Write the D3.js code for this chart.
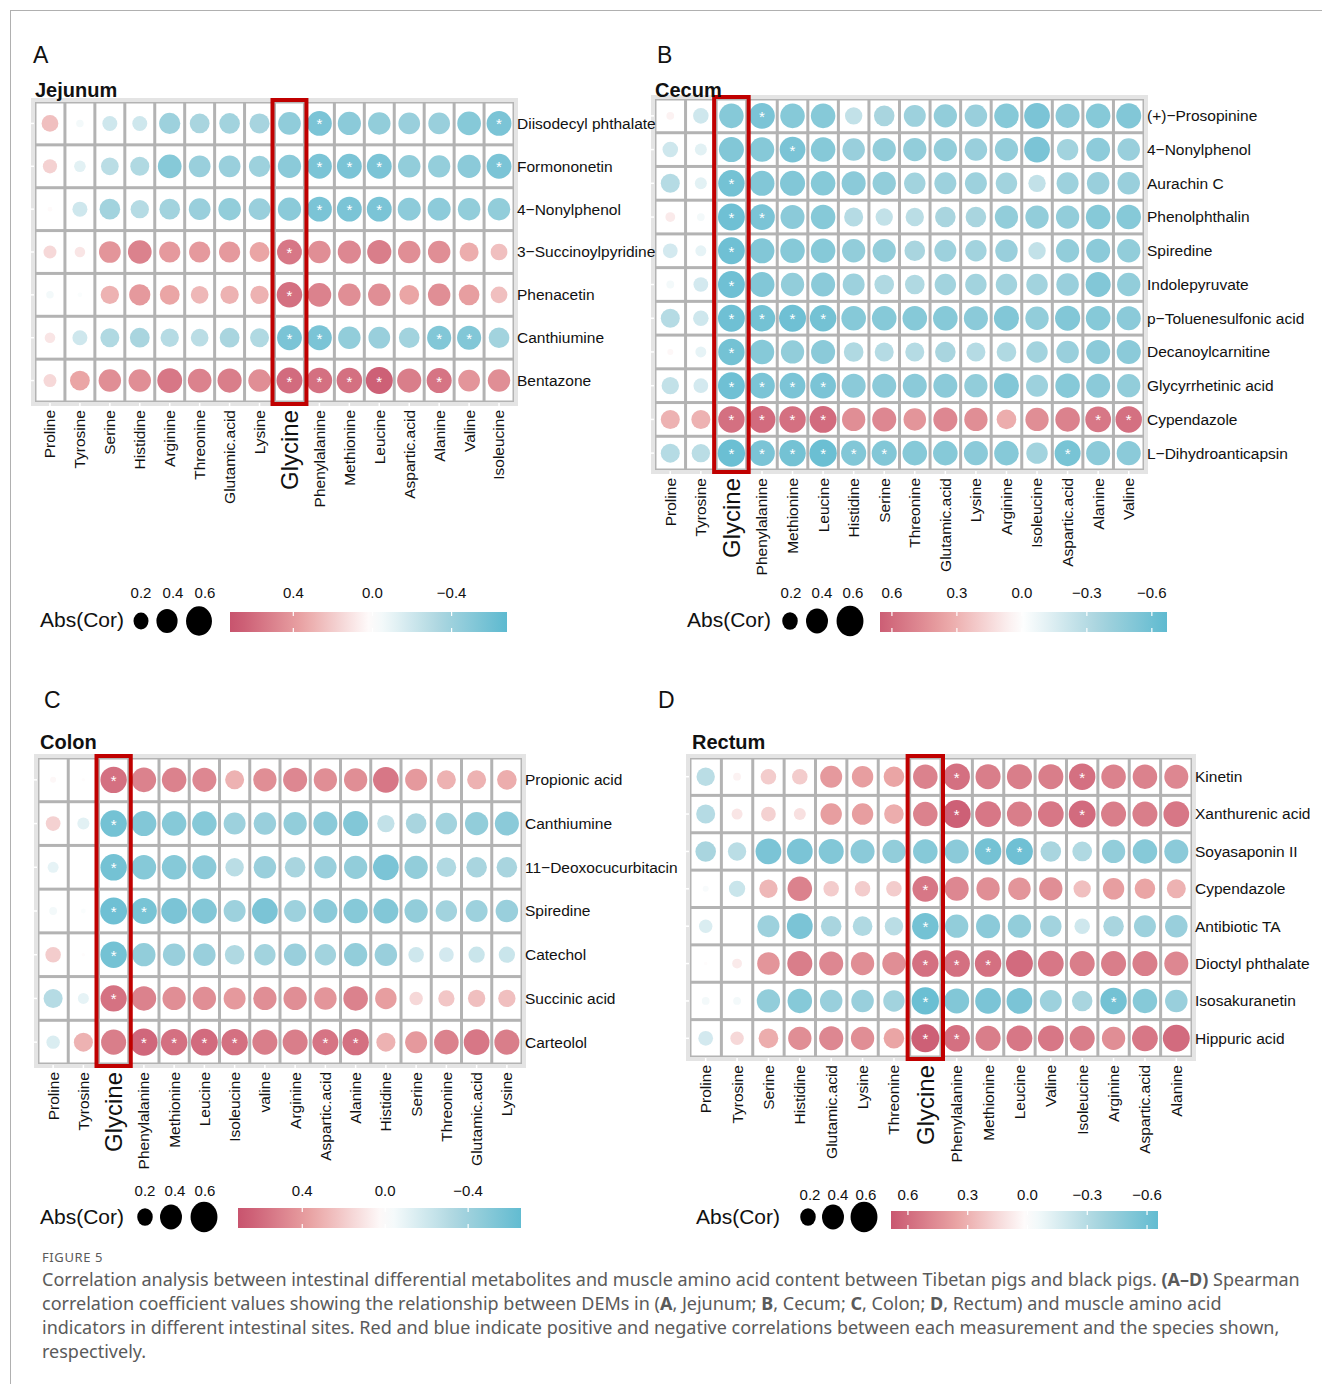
<!DOCTYPE html>
<html>
<head>
<meta charset="utf-8">
<title>Figure 5</title>
<script src="https://d3js.org/d3.v7.min.js"></script>
<style>
  body { margin: 0; background: #fff; }
  svg text { font-family: "Liberation Sans", Arial, sans-serif; fill: #111; }
  .caption text { font-family: "Noto Sans", sans-serif; fill: #5a5a5a; }
</style>
</head>
<body>
<svg id="fig" width="1322" height="1384"></svg>
<script>
// ---- data ----
var jejunumCols = ["Proline","Tyrosine","Serine","Histidine","Arginine","Threonine","Glutamic.acid","Lysine","Glycine","Phenylalanine","Methionine","Leucine","Aspartic.acid","Alanine","Valine","Isoleucine"];
var jejunumRows = ["Diisodecyl phthalate","Formononetin","4\u2212Nonylphenol","3\u2212Succinoylpyridine","Phenacetin","Canthiumine","Bentazone"];
var jejunumCor = [
  [0.25,-0.05,-0.2,-0.2,-0.4,-0.35,-0.38,-0.36,-0.46,-0.55,-0.48,-0.45,-0.42,-0.42,-0.5,-0.55],
  [0.18,-0.12,-0.28,-0.32,-0.5,-0.42,-0.42,-0.4,-0.48,-0.55,-0.55,-0.55,-0.45,-0.44,-0.48,-0.55],
  [0.02,-0.2,-0.38,-0.3,-0.38,-0.42,-0.45,-0.42,-0.48,-0.55,-0.55,-0.55,-0.47,-0.47,-0.45,-0.45],
  [0.15,0.1,0.42,0.5,0.4,0.4,0.4,0.35,0.55,0.45,0.48,0.52,0.45,0.45,0.32,0.25],
  [-0.05,-0.02,0.3,0.4,0.35,0.28,0.3,0.3,0.58,0.5,0.45,0.45,0.35,0.45,0.38,0.25],
  [0.1,-0.2,-0.32,-0.35,-0.3,-0.28,-0.35,-0.32,-0.55,-0.55,-0.45,-0.42,-0.38,-0.52,-0.52,-0.38],
  [0.15,0.35,0.45,0.45,0.55,0.5,0.52,0.45,0.6,0.58,0.58,0.65,0.52,0.56,0.42,0.45]
];
var jejunumSig = [[9,15],[9,10,11,15],[9,10,11],[8],[8],[8,9,13,14],[8,9,10,11,13]];

var cecumCols = ["Proline","Tyrosine","Glycine","Phenylalanine","Methionine","Leucine","Histidine","Serine","Threonine","Glutamic.acid","Lysine","Arginine","Isoleucine","Aspartic.acid","Alanine","Valine"];
var cecumRows = ["(+)\u2212Prosopinine","4\u2212Nonylphenol","Aurachin C","Phenolphthalin","Spiredine","Indolepyruvate","p\u2212Toluenesulfonic acid","Decanoylcarnitine","Glycyrrhetinic acid","Cypendazole","L\u2212Dihydroanticapsin"];
var cecumCor = [
  [0.05,-0.2,-0.5,-0.55,-0.5,-0.5,-0.25,-0.35,-0.4,-0.45,-0.42,-0.5,-0.55,-0.48,-0.5,-0.52],
  [-0.2,-0.12,-0.52,-0.5,-0.55,-0.5,-0.42,-0.45,-0.45,-0.45,-0.42,-0.45,-0.55,-0.38,-0.47,-0.42],
  [-0.3,-0.12,-0.58,-0.52,-0.52,-0.5,-0.48,-0.45,-0.38,-0.4,-0.4,-0.38,-0.25,-0.4,-0.42,-0.42],
  [0.08,-0.05,-0.6,-0.55,-0.48,-0.5,-0.3,-0.25,-0.28,-0.35,-0.35,-0.45,-0.45,-0.45,-0.5,-0.5],
  [-0.18,-0.1,-0.6,-0.52,-0.5,-0.5,-0.45,-0.45,-0.35,-0.4,-0.38,-0.42,-0.25,-0.45,-0.48,-0.45],
  [-0.05,-0.18,-0.6,-0.52,-0.45,-0.48,-0.4,-0.32,-0.32,-0.38,-0.38,-0.38,-0.38,-0.42,-0.52,-0.45],
  [-0.3,-0.2,-0.6,-0.58,-0.6,-0.58,-0.5,-0.5,-0.5,-0.5,-0.48,-0.52,-0.45,-0.52,-0.5,-0.48],
  [0.03,-0.1,-0.58,-0.5,-0.45,-0.48,-0.32,-0.3,-0.3,-0.35,-0.3,-0.32,-0.38,-0.42,-0.48,-0.48],
  [-0.25,-0.18,-0.6,-0.55,-0.55,-0.55,-0.48,-0.48,-0.48,-0.48,-0.45,-0.52,-0.4,-0.5,-0.48,-0.45],
  [0.3,0.3,0.58,0.6,0.58,0.6,0.45,0.48,0.42,0.48,0.45,0.32,0.45,0.5,0.55,0.58],
  [-0.3,-0.28,-0.62,-0.55,-0.58,-0.62,-0.52,-0.52,-0.5,-0.5,-0.48,-0.5,-0.38,-0.56,-0.48,-0.48]
];
var cecumSig = [[3],[4],[2],[2,3],[2],[2],[2,3,4,5],[2],[2,3,4,5],[2,3,4,5,14,15],[2,3,4,5,6,7,13]];

var colonCols = ["Proline","Tyrosine","Glycine","Phenylalanine","Methionine","Leucine","Isoleucine","valine","Arginine","Aspartic.acid","Alanine","Histidine","Serine","Threonine","Glutamic.acid","Lysine"];
var colonRows = ["Propionic acid","Canthiumine","11\u2212Deoxocucurbitacin","Spiredine","Catechol","Succinic acid","Carteolol"];
var colonCor = [
  [0.03,0.01,0.58,0.5,0.5,0.48,0.3,0.45,0.48,0.45,0.45,0.55,0.4,0.3,0.3,0.32],
  [0.18,-0.12,-0.58,-0.52,-0.5,-0.5,-0.4,-0.42,-0.45,-0.48,-0.52,-0.25,-0.35,-0.38,-0.45,-0.48],
  [-0.1,0,-0.58,-0.5,-0.5,-0.48,-0.28,-0.42,-0.35,-0.42,-0.45,-0.55,-0.45,-0.32,-0.35,-0.35],
  [-0.05,-0.02,-0.6,-0.56,-0.55,-0.52,-0.4,-0.55,-0.4,-0.48,-0.5,-0.52,-0.45,-0.38,-0.4,-0.42],
  [0.2,0.01,-0.58,-0.45,-0.42,-0.42,-0.32,-0.38,-0.42,-0.38,-0.45,-0.42,-0.2,-0.18,-0.22,-0.22],
  [-0.3,-0.1,0.57,0.5,0.45,0.45,0.4,0.45,0.45,0.42,0.5,0.38,0.15,0.22,0.25,0.25],
  [-0.15,0.3,0.52,0.62,0.58,0.6,0.58,0.52,0.52,0.56,0.58,0.3,0.4,0.5,0.55,0.52]
];
var colonSig = [[2],[2],[2],[2,3],[2],[2],[3,4,5,6,9,10]];

var rectumCols = ["Proline","Tyrosine","Serine","Histidine","Glutamic.acid","Lysine","Threonine","Glycine","Phenylalanine","Methionine","Leucine","Valine","Isoleucine","Arginine","Aspartic.acid","Alanine"];
var rectumRows = ["Kinetin","Xanthurenic acid","Soyasaponin II","Cypendazole","Antibiotic TA","Dioctyl phthalate","Isosakuranetin","Hippuric acid"];
var rectumCor = [
  [-0.28,0.05,0.2,0.2,0.4,0.38,0.35,0.5,0.58,0.52,0.52,0.52,0.58,0.5,0.5,0.48],
  [-0.3,0.1,0.18,0.12,0.38,0.38,0.32,0.5,0.65,0.55,0.52,0.55,0.6,0.52,0.52,0.55],
  [-0.35,-0.28,-0.55,-0.55,-0.52,-0.48,-0.45,-0.5,-0.48,-0.58,-0.6,-0.35,-0.32,-0.45,-0.5,-0.48],
  [-0.03,-0.22,0.28,0.5,0.2,0.2,0.2,0.55,0.48,0.45,0.42,0.45,0.25,0.38,0.35,0.3],
  [-0.15,0,-0.4,-0.55,-0.35,-0.32,-0.28,-0.58,-0.45,-0.48,-0.45,-0.38,-0.2,-0.35,-0.4,-0.42],
  [0.01,0.08,0.42,0.52,0.48,0.45,0.45,0.58,0.58,0.58,0.6,0.55,0.52,0.52,0.52,0.48],
  [-0.05,-0.05,-0.45,-0.5,-0.42,-0.42,-0.38,-0.62,-0.52,-0.55,-0.55,-0.4,-0.35,-0.58,-0.5,-0.42],
  [-0.18,0.15,0.32,0.45,0.48,0.45,0.35,0.65,0.58,0.52,0.55,0.55,0.52,0.45,0.55,0.6]
];
var rectumSig = [[8,12],[8,12],[9,10],[7],[7],[7,8,9],[7,13],[7,8]];

var sizeLegendValues = [0.2, 0.4, 0.6];
var colorTicksAC = [0.4, 0.0, -0.4];
var colorTicksBD = [0.6, 0.3, 0.0, -0.3, -0.6];

// ---- shared scales ----
var color = d3.scaleLinear()
  .domain([-0.7, -0.35, 0, 0.35, 0.7])
  .range(["#58b8cf", "#a9d5df", "#ffffff", "#eaa5a5", "#c8546e"])
  .clamp(true);
var fmt = d3.format(".1f");

var svg = d3.select("#fig");
svg.append("rect").attr("width", 1322).attr("height", 1384).attr("fill", "#fff");
// figure frame
svg.append("line").attr("x1", 10).attr("x2", 1322).attr("y1", 10.5).attr("y2", 10.5).attr("stroke", "#b0b0b0");
svg.append("line").attr("x1", 10.5).attr("x2", 10.5).attr("y1", 10).attr("y2", 1384).attr("stroke", "#b0b0b0");

var defs = svg.append("defs");
var gridLayer = svg.append("g");
var textLayer = svg.append("g");

var panels = [
  { id: "a", letter: "A", lx: 33, ly: 63, title: "Jejunum", tx: 35, ty: 97,
    cols: jejunumCols, rows: jejunumRows, cor: jejunumCor, sig: jejunumSig,
    x0: 35, x1: 514, y0: 102, y1: 402, rmax: 13.5,
    leg: { tx: 40, ty: 620, cx: [141, 167, 199], lx: [141, 173, 205], ly: 593, cy: 621,
           bx0: 230, bx1: 507, by0: 612, by1: 632, dom: [0.72, -0.68], ticks: colorTicksAC } },
  { id: "b", letter: "B", lx: 657, ly: 63, title: "Cecum", tx: 655, ty: 97,
    cols: cecumCols, rows: cecumRows, cor: cecumCor, sig: cecumSig,
    x0: 655, x1: 1144, y0: 99, y1: 470, rmax: 14,
    leg: { tx: 687, ty: 620, cx: [790, 817, 850], lx: [791, 822, 853], ly: 593, cy: 621,
           bx0: 880, bx1: 1167, by0: 612, by1: 632, dom: [0.655, -0.67], ticks: colorTicksBD } },
  { id: "c", letter: "C", lx: 44, ly: 708, title: "Colon", tx: 40, ty: 749,
    cols: colonCols, rows: colonRows, cor: colonCor, sig: colonSig,
    x0: 38, x1: 522, y0: 758, y1: 1064, rmax: 14,
    leg: { tx: 40, ty: 1217, cx: [145, 171, 204], lx: [145, 175, 205], ly: 1191, cy: 1217,
           bx0: 238, bx1: 521, by0: 1208, by1: 1228, dom: [0.71, -0.655], ticks: colorTicksAC } },
  { id: "d", letter: "D", lx: 658, ly: 708, title: "Rectum", tx: 692, ty: 749,
    cols: rectumCols, rows: rectumRows, cor: rectumCor, sig: rectumSig,
    x0: 690, x1: 1192, y0: 758, y1: 1057, rmax: 14,
    leg: { tx: 696, ty: 1217, cx: [808, 833, 864], lx: [810, 838, 866], ly: 1195, cy: 1217,
           bx0: 891, bx1: 1158, by0: 1211, by1: 1229, dom: [0.685, -0.655], ticks: colorTicksBD } }
];

function drawPanel(p) {
  var g = gridLayer.append("g");
  var t = textLayer.append("g");
  var x = d3.scaleBand().domain(p.cols).range([p.x0, p.x1]);
  var y = d3.scaleBand().domain(p.rows).range([p.y0, p.y1]);
  var r = d3.scaleSqrt().domain([0, 0.65]).range([0, p.rmax]);
  var cw = x.bandwidth(), ch = y.bandwidth();

  // grid
  g.append("rect").attr("x", p.x0 - 4).attr("y", p.y0 - 4)
    .attr("width", p.x1 - p.x0 + 8).attr("height", p.y1 - p.y0 + 8).attr("fill", "#e4e4e4");
  g.append("rect").attr("x", p.x0).attr("y", p.y0)
    .attr("width", p.x1 - p.x0).attr("height", p.y1 - p.y0).attr("fill", "#b3b3b3");

  var cells = [];
  p.cor.forEach(function (row, i) {
    row.forEach(function (v, j) {
      cells.push({ row: p.rows[i], col: p.cols[j], v: v, sig: p.sig[i].indexOf(j) >= 0 });
    });
  });

  g.selectAll(".cell").data(cells).enter().append("rect")
    .attr("x", function (d) { return x(d.col) + 1.5; })
    .attr("y", function (d) { return y(d.row) + 1.5; })
    .attr("width", cw - 3).attr("height", ch - 3).attr("fill", "#fff");

  // little white ticks on the outer band
  g.selectAll(".tk").data(p.cols).enter().append("line")
    .attr("x1", function (d) { return x(d) + cw / 2; }).attr("x2", function (d) { return x(d) + cw / 2; })
    .attr("y1", p.y1 + 1).attr("y2", p.y1 + 4).attr("stroke", "#fff").attr("stroke-width", 1.5);
  g.selectAll(".tk2").data(p.rows).enter().append("line")
    .attr("x1", p.x0 - 4).attr("x2", p.x0 - 1)
    .attr("y1", function (d) { return y(d) + ch / 2; }).attr("y2", function (d) { return y(d) + ch / 2; })
    .attr("stroke", "#fff").attr("stroke-width", 1.5);

  g.selectAll(".dot").data(cells).enter().append("circle")
    .attr("cx", function (d) { return x(d.col) + cw / 2; })
    .attr("cy", function (d) { return y(d.row) + ch / 2; })
    .attr("r", function (d) { return r(Math.abs(d.v)); })
    .attr("fill", function (d) { return color(d.v); });

  g.selectAll(".star").data(cells.filter(function (d) { return d.sig; })).enter().append("text")
    .attr("x", function (d) { return x(d.col) + cw / 2; })
    .attr("y", function (d) { return y(d.row) + ch / 2 + 6; })
    .attr("text-anchor", "middle").attr("font-size", 15)
    .style("fill", "#fff").text("*");

  // highlight Glycine
  g.append("rect").attr("x", x("Glycine") - 2).attr("y", p.y0 - 2)
    .attr("width", cw + 4).attr("height", p.y1 - p.y0 + 4)
    .attr("fill", "none").attr("stroke", "#c00000").attr("stroke-width", 4);

  t.append("text").attr("x", p.lx).attr("y", p.ly).attr("font-size", 23).text(p.letter);
  t.append("text").attr("x", p.tx).attr("y", p.ty).attr("font-size", 20).attr("font-weight", "bold").text(p.title);

  // labels
  t.selectAll(".rl").data(p.rows).enter().append("text")
    .attr("x", p.x1 + 3).attr("y", function (d) { return y(d) + ch / 2; })
    .attr("dy", "0.35em").attr("font-size", 15.5).text(function (d) { return d; });

  t.selectAll(".cl").data(p.cols).enter().append("text")
    .attr("transform", function (d) { return "translate(" + (x(d) + cw / 2) + "," + (p.y1 + 8) + ") rotate(-90)"; })
    .attr("text-anchor", "end").attr("dy", "0.35em")
    .attr("font-size", function (d) { return d === "Glycine" ? 24 : 15.5; })
    .text(function (d) { return d; });

  // legend: size
  var L = p.leg;
  t.append("text").attr("x", L.tx).attr("y", L.ty).attr("dy", "0.35em").attr("font-size", 21).text("Abs(Cor)");
  t.selectAll(".lc").data(sizeLegendValues).enter().append("ellipse")
    .attr("cx", function (d, i) { return L.cx[i]; }).attr("cy", L.cy)
    .attr("rx", function (d) { return r(d); }).attr("ry", function (d) { return r(d) * 1.13; })
    .attr("fill", "#000");
  t.selectAll(".ll").data(sizeLegendValues).enter().append("text")
    .attr("x", function (d, i) { return L.lx[i]; }).attr("y", L.ly).attr("dy", "0.35em")
    .attr("text-anchor", "middle").attr("font-size", 15).text(function (d) { return fmt(d); });

  // legend: colour bar
  var cb = d3.scaleLinear().domain(L.dom).range([L.bx0, L.bx1]);
  var grad = defs.append("linearGradient").attr("id", "grad-" + p.id)
    .attr("x1", "0%").attr("x2", "100%").attr("y1", "0%").attr("y2", "0%");
  d3.range(0, 1.0001, 0.05).forEach(function (s) {
    grad.append("stop").attr("offset", (s * 100) + "%").attr("stop-color", color(L.dom[0] + (L.dom[1] - L.dom[0]) * s));
  });
  t.append("rect").attr("x", L.bx0).attr("y", L.by0)
    .attr("width", L.bx1 - L.bx0).attr("height", L.by1 - L.by0).attr("fill", "url(#grad-" + p.id + ")");
  L.ticks.forEach(function (v) {
    t.append("line").attr("x1", cb(v)).attr("x2", cb(v)).attr("y1", L.by0).attr("y2", L.by0 + 4)
      .attr("stroke", "#fff").attr("stroke-width", 1.2);
    t.append("line").attr("x1", cb(v)).attr("x2", cb(v)).attr("y1", L.by1 - 4).attr("y2", L.by1)
      .attr("stroke", "#fff").attr("stroke-width", 1.2);
    t.append("text").attr("x", cb(v)).attr("y", L.ly).attr("dy", "0.35em")
      .attr("text-anchor", "middle").attr("font-size", 15).text(fmt(v));
  });
}

panels.forEach(drawPanel);

// ---- caption ----
var cap = svg.append("g").attr("class", "caption");
cap.append("text").attr("x", 42).attr("y", 1262).attr("font-size", 13).attr("letter-spacing", 0.6).text("FIGURE 5");
var capLines = [
  [["Correlation analysis between intestinal differential metabolites and muscle amino acid content between Tibetan pigs and black pigs. ", 0], ["(A\u2013D)", 1], [" Spearman", 0]],
  [["correlation coefficient values showing the relationship between DEMs in (", 0], ["A", 1], [", Jejunum; ", 0], ["B", 1], [", Cecum; ", 0], ["C", 1], [", Colon; ", 0], ["D", 1], [", Rectum) and muscle amino acid", 0]],
  [["indicators in different intestinal sites. Red and blue indicate positive and negative correlations between each measurement and the species shown,", 0]],
  [["respectively.", 0]]
];
capLines.forEach(function (line, i) {
  var txt = cap.append("text").attr("x", 42).attr("y", 1286 + i * 24).attr("font-size", 18);
  line.forEach(function (seg) {
    txt.append("tspan").attr("font-weight", seg[1] ? "bold" : "normal").text(seg[0]);
  });
});
</script>
</body>
</html>
